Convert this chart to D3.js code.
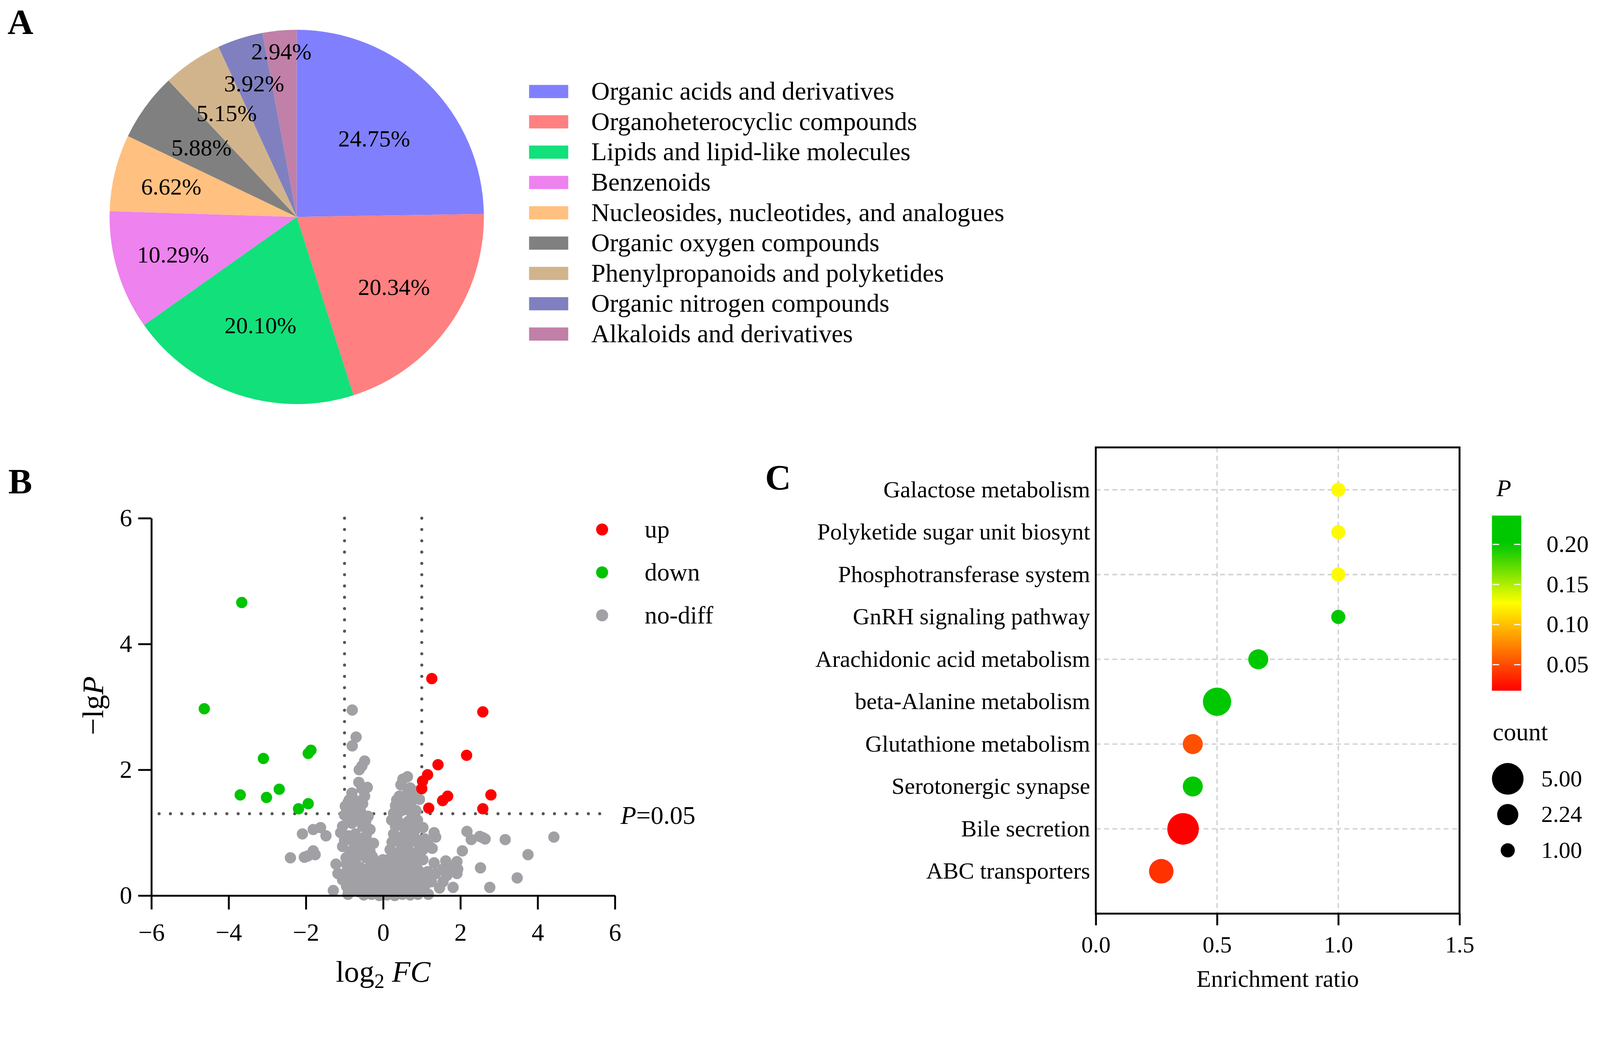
<!DOCTYPE html>
<html>
<head>
<meta charset="utf-8">
<script src="https://cdn.jsdelivr.net/npm/d3@7"></script>
<style>
  html, body { margin: 0; padding: 0; background: #fff; overflow: hidden; }
  #fig svg { display: block; width: 100vw; height: 100vh; }
  svg text { font-family: "Liberation Serif", "Times New Roman", serif; fill: #000; }
</style>
</head>
<body>
<div id="fig"></div>
<script>
// ---------- panel A data ----------
let classNames = [
  "Organic acids and derivatives",
  "Organoheterocyclic compounds",
  "Lipids and lipid-like molecules",
  "Benzenoids",
  "Nucleosides, nucleotides, and analogues",
  "Organic oxygen compounds",
  "Phenylpropanoids and polyketides",
  "Organic nitrogen compounds",
  "Alkaloids and derivatives"
];
let classShare = [24.75, 20.34, 20.10, 10.29, 6.62, 5.88, 5.15, 3.92, 2.94];

// ---------- panel B data (log2 FC, -lgP) ----------
let upPoints = [[1.26,3.45],[2.58,2.92],[2.16,2.23],[1.42,2.08],[1.15,1.92],[1.02,1.82],
  [1.00,1.70],[2.79,1.60],[1.67,1.58],[1.54,1.51],[1.18,1.39],[2.58,1.38]];
let downPoints = [[-3.66,4.66],[-4.63,2.97],[-3.10,2.18],[-1.87,2.31],[-1.94,2.26],
  [-2.69,1.69],[-3.70,1.60],[-3.02,1.56],[-1.94,1.46],[-2.19,1.38]];
let noDiffPoints = [
  [-0.80,2.95],[-0.70,2.52],[-0.80,2.38],[-0.48,2.14],[-0.55,2.06],[-0.62,2.00],[-0.63,1.80],
  [-0.41,1.72],[-0.55,1.70],[-0.81,1.63],[-0.48,1.58],[-0.72,1.51],[-0.53,1.46],[-0.98,1.42],
  [-0.81,1.36],[-0.58,1.33],[-0.39,1.26],[-1.00,1.28],[-0.72,1.20],[-1.05,1.10],[-0.81,1.15],
  [-0.53,1.10],[-0.34,1.05],[-1.10,1.00],[-0.72,0.98],[-0.44,0.95],[-1.00,0.88],[-0.77,0.85],
  [-0.48,0.83],[-0.25,0.83],[-1.05,0.78],[-0.62,0.73],[-0.34,0.70],[-0.86,0.70],[-0.96,0.60],
  [-0.72,0.55],[-0.44,0.60],[-0.20,0.52],[-0.01,0.57],[-0.60,0.45],[-0.85,0.47],[-0.35,0.45],
  [-0.90,1.20],[-0.62,1.25],[-0.45,1.18],[-0.90,0.95],[-0.58,0.90],[-0.38,0.82],[-0.70,0.62],
  [-0.55,0.65],[-0.28,0.62],[-0.15,0.42],[-0.95,0.50],[-0.68,1.40],[-0.88,1.52],
  [0.63,1.89],[0.51,1.85],[0.46,1.76],[0.70,1.71],[0.42,1.58],[0.61,1.61],[0.80,1.66],
  [0.94,1.53],[0.75,1.51],[0.32,1.43],[0.56,1.46],[0.27,1.31],[0.51,1.36],[0.75,1.28],
  [0.37,1.20],[0.65,1.18],[0.89,1.20],[0.32,1.10],[0.61,1.08],[0.84,1.05],[0.27,0.98],
  [0.51,0.95],[0.75,0.98],[0.23,0.85],[0.46,0.83],[0.70,0.85],[0.94,0.80],[0.18,0.73],
  [0.42,0.70],[0.65,0.73],[0.84,0.68],[0.13,0.57],[0.32,0.52],[0.56,0.60],[0.80,0.52],
  [1.03,0.57],[-0.06,0.47],[0.18,0.45],[0.42,0.42],[0.65,0.45],[0.89,0.42],
  [0.40,1.32],[0.62,1.40],[0.85,1.35],[0.45,1.12],[0.72,1.10],[0.38,0.90],[0.60,0.92],
  [0.85,0.90],[0.30,0.62],[0.52,0.55],[0.72,0.60],[0.22,1.20],[0.35,1.52],
  [1.03,1.08],[1.32,1.00],[1.36,0.93],[1.08,0.90],[1.17,0.80],[1.03,0.73],[0.98,0.83],[1.27,0.75],
  [1.32,0.52],[1.62,0.55],[1.91,0.54],[1.93,0.42],[1.77,0.45],[1.55,0.42],[1.36,0.35],
  [1.65,0.32],[1.81,0.13],[1.46,0.12],[1.17,0.02],[1.91,0.35],[1.25,0.22],[1.55,0.22],
  [-1.00,0.35],[-0.78,0.36],[-0.58,0.34],[-0.40,0.36],[-0.22,0.33],[-0.05,0.36],[0.12,0.34],
  [0.30,0.35],[0.48,0.33],[0.66,0.36],[0.84,0.34],[1.02,0.35],[1.15,0.38],
  [-0.88,0.25],[-0.68,0.24],[-0.48,0.26],[-0.30,0.24],[-0.12,0.25],[0.06,0.23],[0.24,0.26],
  [0.42,0.24],[0.60,0.25],[0.78,0.23],[0.96,0.26],[1.12,0.24],
  [-0.95,0.15],[-0.75,0.14],[-0.55,0.16],[-0.35,0.15],[-0.15,0.14],[0.02,0.16],[0.20,0.15],
  [0.38,0.14],[0.56,0.16],[0.74,0.15],[0.92,0.14],[1.08,0.16],
  [-0.85,0.07],[-0.62,0.06],[-0.42,0.08],[-0.25,0.06],[-0.08,0.07],[0.10,0.06],[0.28,0.08],
  [0.46,0.06],[0.64,0.07],[0.82,0.06],[1.00,0.08],
  [-0.91,0.02],[-0.50,0.01],[-0.30,0.02],[-0.10,0.00],[0.10,0.01],[0.30,0.00],[0.50,0.02],
  [0.70,0.01],[0.90,0.02],
  [-2.09,0.98],[-1.81,1.05],[-1.62,1.08],[-1.48,0.95],[-2.40,0.60],[-2.04,0.61],[-1.81,0.71],
  [-1.76,0.65],[-1.95,0.63],[-1.22,0.50],[-1.17,0.35],[-1.29,0.08],[-0.93,0.32],[-1.05,0.25],
  [2.17,1.02],[2.28,0.89],[2.50,0.94],[2.64,0.90],[2.58,0.92],[3.16,0.89],[4.42,0.93],
  [2.05,0.71],[3.75,0.65],[2.52,0.44],[3.47,0.28],[2.76,0.13]
];
let xTicksB = [-6, -4, -2, 0, 2, 4, 6];
let yTicksB = [0, 2, 4, 6];

// ---------- panel C data ----------
let pathways = [
  "Galactose metabolism",
  "Polyketide sugar unit biosynt",
  "Phosphotransferase system",
  "GnRH signaling pathway",
  "Arachidonic acid metabolism",
  "beta-Alanine metabolism",
  "Glutathione metabolism",
  "Serotonergic synapse",
  "Bile secretion",
  "ABC transporters"
];
let enrichRatio = [1.0, 1.0, 1.0, 1.0, 0.67, 0.50, 0.40, 0.40, 0.36, 0.27];
let hitCount = [1, 1, 1, 1, 2, 4, 2, 2, 5, 3];
let pValue = [0.125, 0.125, 0.125, 0.22, 0.21, 0.23, 0.052, 0.21, 0.017, 0.039];
let xTicksC = [0, 0.5, 1.0, 1.5];
let pLegendTicks = [0.05, 0.10, 0.15, 0.20];
let countLegend = [5.00, 2.24, 1.00];

// ---------- styles ----------
let classColors = ["#8080ff", "#ff8080", "#12e07a", "#ee82ee", "#ffc080",
                   "#808080", "#d2b48c", "#8080c0", "#c080a8"];
let labelRadius = [0.59, 0.64, 0.61, 0.69, 0.69, 0.63, 0.67, 0.75, 0.89];

let W = 4249, H = 2657;
// scale the drawing to the window width, keep the aspect ratio, pin to the top-left
let svg = d3.select("#fig").append("svg")
  .attr("viewBox", `0 0 ${W} ${H}`)
  .attr("preserveAspectRatio", "xMinYMin meet");

function panelLetter(t, x, y) {
  svg.append("text").attr("x", x).attr("y", y)
    .attr("font-size", 95).attr("font-weight", "bold").text(t);
}
panelLetter("A", 20, 90);
panelLetter("B", 22, 1310);
panelLetter("C", 2032, 1300);

// ================= A: pie =================
let pieR = 497;
let pieG = svg.append("g").attr("transform", "translate(788,576)");
let pie = d3.pie().sort(null).value(d => d);
let arcs = pie(classShare);
let arc = d3.arc().innerRadius(0).outerRadius(pieR);

pieG.selectAll("path.slice").data(arcs).enter().append("path")
  .attr("class", "slice")
  .attr("d", arc)
  .attr("fill", (d, i) => classColors[i]);

pieG.selectAll("text.plabel").data(arcs).enter().append("text")
  .attr("class", "plabel")
  .attr("transform", (d, i) => {
    let rr = pieR * labelRadius[i];
    let c = d3.arc().innerRadius(rr).outerRadius(rr).centroid(d);
    return `translate(${c[0]},${c[1]})`;
  })
  .attr("text-anchor", "middle")
  .attr("dy", "0.35em")
  .attr("font-size", 62)
  .text(d => d.data.toFixed(2) + "%");

let legA = svg.append("g");
let legY = d3.scalePoint().domain(classNames).range([243, 887]);
legA.selectAll("rect").data(classNames).enter().append("rect")
  .attr("x", 1405).attr("y", d => legY(d) - 17.5)
  .attr("width", 104).attr("height", 35)
  .attr("fill", (d, i) => classColors[i]);
legA.selectAll("text").data(classNames).enter().append("text")
  .attr("x", 1570).attr("y", d => legY(d)).attr("dy", "0.32em")
  .attr("font-size", 68).text(d => d);

// ================= B: volcano =================
let xB = d3.scaleLinear().domain([-6, 6]).range([402, 1633]);
let yB = d3.scaleLinear().domain([0, 6]).range([2378, 1376]);
let gB = svg.append("g");

// threshold lines
let dotted = { stroke: "#555", width: 8, dash: "0,30" };
[-1, 1].forEach(v => {
  gB.append("line")
    .attr("x1", xB(v)).attr("x2", xB(v))
    .attr("y1", yB(6)).attr("y2", yB(0))
    .attr("stroke", dotted.stroke).attr("stroke-width", dotted.width)
    .attr("stroke-linecap", "round").attr("stroke-dasharray", dotted.dash);
});
let pCut = -Math.log10(0.05);
gB.append("line")
  .attr("x1", xB(-5.8)).attr("x2", xB(5.85))
  .attr("y1", yB(pCut)).attr("y2", yB(pCut))
  .attr("stroke", dotted.stroke).attr("stroke-width", dotted.width)
  .attr("stroke-linecap", "round").attr("stroke-dasharray", dotted.dash);

let ptR = 15;
gB.selectAll("circle.nd").data(noDiffPoints).enter().append("circle")
  .attr("class", "nd").attr("cx", d => xB(d[0])).attr("cy", d => yB(d[1]))
  .attr("r", ptR).attr("fill", "#a1a1a5");
gB.selectAll("circle.dn").data(downPoints).enter().append("circle")
  .attr("class", "dn").attr("cx", d => xB(d[0])).attr("cy", d => yB(d[1]))
  .attr("r", ptR).attr("fill", "#00c400");
gB.selectAll("circle.up").data(upPoints).enter().append("circle")
  .attr("class", "up").attr("cx", d => xB(d[0])).attr("cy", d => yB(d[1]))
  .attr("r", ptR).attr("fill", "#ff0000");

let xAxisB = gB.append("g").attr("transform", `translate(0,${yB(0)})`)
  .call(d3.axisBottom(xB).tickValues(xTicksB).tickSize(37).tickSizeOuter(0).tickPadding(36)
    .tickFormat(d3.format("d")));
let yAxisB = gB.append("g").attr("transform", `translate(${xB(-6)},0)`)
  .call(d3.axisLeft(yB).tickValues(yTicksB).tickSize(35).tickSizeOuter(0).tickPadding(16)
    .tickFormat(d3.format("d")));
[xAxisB, yAxisB].forEach(a => {
  a.selectAll("path, line").attr("stroke", "#000").attr("stroke-width", 5);
  a.selectAll("text").attr("font-size", 66)
    .attr("font-family", "'Liberation Serif', 'Times New Roman', serif");
});
yAxisB.selectAll("text").attr("dy", "0.32em");

// axis titles
let yTitle = gB.append("text")
  .attr("transform", "translate(274,1874) rotate(-90)")
  .attr("text-anchor", "middle").attr("font-size", 80);
yTitle.append("tspan").text("\u2212lg");
yTitle.append("tspan").attr("font-style", "italic").text("P");

let xTitle = gB.append("text")
  .attr("x", xB(0)).attr("y", 2607)
  .attr("text-anchor", "middle").attr("font-size", 80);
xTitle.append("tspan").text("log");
xTitle.append("tspan").attr("font-size", 54).attr("dy", 16).text("2");
xTitle.append("tspan").attr("dy", -16).text(" ");
xTitle.append("tspan").attr("font-style", "italic").text("FC");

let pTxt = gB.append("text").attr("x", 1648).attr("y", 2188).attr("font-size", 68);
pTxt.append("tspan").attr("font-style", "italic").text("P");
pTxt.append("tspan").text("=0.05");

// legend
let legB = [["up", "#ff0000"], ["down", "#00c400"], ["no-diff", "#a1a1a5"]];
let legBY = d3.scalePoint().domain(legB.map(d => d[0])).range([1406, 1634]);
gB.selectAll("circle.leg").data(legB).enter().append("circle")
  .attr("class", "leg").attr("cx", 1599).attr("cy", d => legBY(d[0]))
  .attr("r", 16).attr("fill", d => d[1]);
gB.selectAll("text.leg").data(legB).enter().append("text")
  .attr("class", "leg").attr("x", 1712).attr("y", d => legBY(d[0]))
  .attr("dy", "0.32em").attr("font-size", 66).text(d => d[0]);

// ================= C: bubble =================
let xC = d3.scaleLinear().domain([0, 1.5]).range([2910, 3876]);
let yC = d3.scalePoint().domain(pathways).range([1188, 2426]).padding(1);
let rC = d3.scaleSqrt().domain([0, 5]).range([0, 42]);
let colorP = d3.scaleLinear().domain([0.0175, 0.127, 0.20])
  .range(["#ff0000", "#ffff00", "#00c800"]).clamp(true);
let gC = svg.append("g");

// grid
[0.5, 1.0].forEach(v => {
  gC.append("line").attr("x1", xC(v)).attr("x2", xC(v))
    .attr("y1", 1188).attr("y2", 2426)
    .attr("stroke", "#d4d4d4").attr("stroke-width", 4).attr("stroke-dasharray", "13,9");
});
pathways.forEach((p, i) => {
  if (i % 2 === 0) {
    gC.append("line").attr("x1", xC(0)).attr("x2", xC(1.5))
      .attr("y1", yC(p)).attr("y2", yC(p))
      .attr("stroke", "#d4d4d4").attr("stroke-width", 4).attr("stroke-dasharray", "13,9");
  }
});

gC.selectAll("circle.bub").data(pathways).enter().append("circle")
  .attr("class", "bub")
  .attr("cx", (d, i) => xC(enrichRatio[i]))
  .attr("cy", d => yC(d))
  .attr("r", (d, i) => rC(hitCount[i]))
  .attr("fill", (d, i) => colorP(pValue[i]));

gC.append("rect").attr("x", 2910).attr("y", 1188)
  .attr("width", 3876 - 2910).attr("height", 2426 - 1188)
  .attr("fill", "none").attr("stroke", "#000").attr("stroke-width", 5);

gC.selectAll("text.cat").data(pathways).enter().append("text")
  .attr("class", "cat").attr("x", 2895).attr("y", d => yC(d))
  .attr("dy", "0.32em").attr("text-anchor", "end").attr("font-size", 62).text(d => d);

let xAxisC = gC.append("g").attr("transform", "translate(0,2426)")
  .call(d3.axisBottom(xC).tickValues(xTicksC).tickSize(31).tickSizeOuter(0).tickPadding(28)
    .tickFormat(d3.format(".1f")));
xAxisC.select(".domain").remove();
xAxisC.selectAll("line").attr("stroke", "#000").attr("stroke-width", 5);
xAxisC.selectAll("text").attr("font-size", 62)
  .attr("font-family", "'Liberation Serif', 'Times New Roman', serif");

gC.append("text").attr("x", 3393).attr("y", 2620)
  .attr("text-anchor", "middle").attr("font-size", 64).text("Enrichment ratio");

// colour bar
gC.append("text").attr("x", 3974).attr("y", 1317)
  .attr("font-size", 64).attr("font-style", "italic").text("P");
let barScale = d3.scaleLinear().domain([0.0175, 0.236]).range([1834, 1369]);
let grad = svg.append("defs").append("linearGradient")
  .attr("id", "pgrad").attr("x1", 0).attr("x2", 0).attr("y1", 1).attr("y2", 0);
let gradVals = d3.range(0, 1.0001, 0.05).map(t => 0.0175 + t * (0.236 - 0.0175));
grad.selectAll("stop").data(gradVals).enter().append("stop")
  .attr("offset", (d, i) => (i / (gradVals.length - 1)))
  .attr("stop-color", d => colorP(d));
gC.append("rect").attr("x", 3962).attr("y", 1369)
  .attr("width", 78).attr("height", 1834 - 1369).attr("fill", "url(#pgrad)");
pLegendTicks.forEach(v => {
  [[3964, 3981], [4021, 4038]].forEach(s => {
    gC.append("line").attr("x1", s[0]).attr("x2", s[1])
      .attr("y1", barScale(v)).attr("y2", barScale(v))
      .attr("stroke", "#fff").attr("stroke-width", 3);
  });
});
gC.selectAll("text.pt").data(pLegendTicks).enter().append("text")
  .attr("class", "pt").attr("x", 4107).attr("y", d => barScale(d))
  .attr("dy", "0.32em").attr("font-size", 64).text(d => d3.format(".2f")(d));

// size legend
gC.append("text").attr("x", 3964).attr("y", 1966).attr("font-size", 66).text("count");
let sizeY = d3.scalePoint().domain(countLegend).range([2068, 2258]);
gC.selectAll("circle.sz").data(countLegend).enter().append("circle")
  .attr("class", "sz").attr("cx", 4004).attr("cy", d => sizeY(d))
  .attr("r", d => rC(d)).attr("fill", "#000");
gC.selectAll("text.sz").data(countLegend).enter().append("text")
  .attr("class", "sz").attr("x", 4093).attr("y", d => sizeY(d))
  .attr("dy", "0.32em").attr("font-size", 62).text(d => d.toFixed(2));
</script>
</body>
</html>
